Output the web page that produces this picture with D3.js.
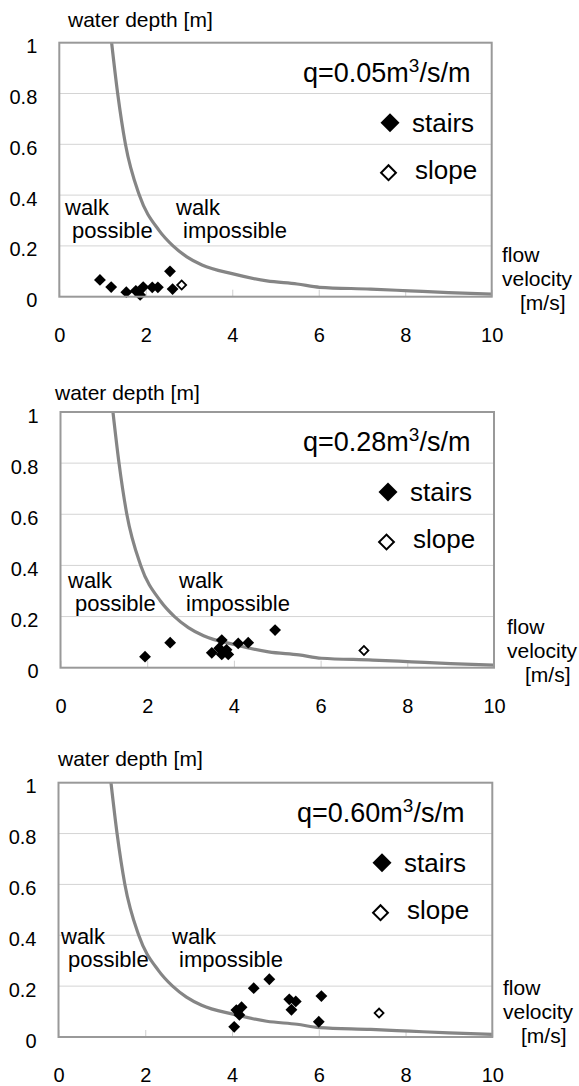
<!DOCTYPE html>
<html>
<head>
<meta charset="utf-8">
<script src="https://cdn.jsdelivr.net/npm/d3@7"></script>
<style>
  body { margin: 0; background: #fff; }
  svg { display: block; font-family: 'Liberation Sans', Arial, sans-serif; }
</style>
</head>
<body>
<div id="chart"></div>
<script>
// x = flow velocity [m/s], y = water depth [m]
const xTicks = [0, 2, 4, 6, 8, 10]
const xTickLabels = ['0', '2', '4', '6', '8', '10']
const yTicks = [0, 0.2, 0.4, 0.6, 0.8, 1]
const yTickLabels = ['0', '0.2', '0.4', '0.6', '0.8', '1']
const qLabels = ['0.05', '0.28', '0.60']

// walk possible / impossible boundary (same in every panel)
const limitCurve = [
  [1.21, 1.0], [1.35, 0.8], [1.53, 0.6], [1.85, 0.4], [2.31, 0.26],
  [2.63, 0.2], [2.95, 0.157], [3.3, 0.125], [4.02, 0.09], [4.8, 0.062],
  [5.5, 0.05], [6.02, 0.037], [7.2, 0.03], [8.1, 0.023], [9.0, 0.016],
  [10, 0.01]
]

// q = 0.05
const stairs005 = [
  [0.94, 0.066], [1.2, 0.038], [1.55, 0.018], [1.77, 0.023], [1.87, 0.007],
  [1.94, 0.038], [2.15, 0.037], [2.28, 0.037], [2.56, 0.1], [2.62, 0.03]
]
const slope005 = [[2.83, 0.046]]

// q = 0.28
const stairs028 = [
  [1.95, 0.043], [2.53, 0.098], [3.49, 0.058], [3.72, 0.108], [3.66, 0.076],
  [3.83, 0.07], [3.72, 0.052], [3.87, 0.052], [4.1, 0.095], [4.33, 0.098],
  [4.95, 0.147]
]
const slope028 = [[7.0, 0.067]]

// q = 0.60
const stairs060 = [
  [4.05, 0.04], [4.1, 0.106], [4.17, 0.087], [4.22, 0.117], [4.5, 0.192],
  [4.86, 0.227], [5.32, 0.148], [5.47, 0.14], [5.37, 0.107], [6.06, 0.161],
  [6.0, 0.06]
]
const slope060 = [[7.39, 0.094]]

const panels = [
  { q: qLabels[0], stairs: stairs005, slope: slope005,
    left: 59.3, right: 491.7, top: 42.7, bottom: 296.7,
    titleX: 68, titleY: 27, qX: 303, legendX: 390,
    walkX: 65, walkY: 215, flowX: 502, flowY: 262 },
  { q: qLabels[1], stairs: stairs028, slope: slope028,
    left: 60.5, right: 494, top: 412, bottom: 667.7,
    titleX: 55, titleY: 400, qX: 303, legendX: 388,
    walkX: 68, walkY: 588, flowX: 507, flowY: 634 },
  { q: qLabels[2], stairs: stairs060, slope: slope060,
    left: 58.5, right: 492.3, top: 782.7, bottom: 1037,
    titleX: 58, titleY: 766, qX: 297, legendX: 382,
    walkX: 61, walkY: 944, flowX: 503, flowY: 995 }
]

const W = 579, H = 1086
const svg = d3.select('#chart').append('svg')
  .attr('width', W).attr('height', H)

const diamond = size => d3.symbol().type(d3.symbolSquare).size(size)

function drawPanel(p) {
  const x = d3.scaleLinear().domain([0, 10]).range([p.left, p.right])
  const y = d3.scaleLinear().domain([0, 1]).range([p.bottom, p.top])
  const g = svg.append('g')

  // grid
  g.selectAll('.grid')
    .data(yTicks.slice(1, -1))
    .join('line')
    .attr('x1', p.left).attr('x2', p.right)
    .attr('y1', d => y(d)).attr('y2', d => y(d))
    .attr('stroke', '#d4d4d4').attr('stroke-width', 1)

  // x axis (ticks point inward)
  const xAxis = g.append('g')
    .attr('transform', `translate(0,${p.bottom})`)
    .call(d3.axisBottom(x).tickValues(xTicks)
      .tickFormat((d, i) => xTickLabels[i])
      .tickSize(-7).tickPadding(31))
  xAxis.select('.domain').remove()
  xAxis.selectAll('line').attr('stroke', '#cfcfcf')
  xAxis.selectAll('text')
    .attr('fill', '#000').style('font-size', '20px')
    .style('font-family', 'Liberation Sans, Arial, sans-serif')

  const yAxis = g.append('g')
    .attr('transform', `translate(${p.left},0)`)
    .call(d3.axisLeft(y).tickValues(yTicks)
      .tickFormat((d, i) => yTickLabels[i])
      .tickSize(0).tickPadding(22))
  yAxis.select('.domain').remove()
  yAxis.selectAll('text')
    .attr('fill', '#000').attr('dy', '0.5em').style('font-size', '20px')
    .style('font-family', 'Liberation Sans, Arial, sans-serif')

  // boundary curve
  g.append('path')
    .datum(limitCurve)
    .attr('d', d3.line().x(d => x(d[0])).y(d => y(d[1])).curve(d3.curveMonotoneX))
    .attr('fill', 'none')
    .attr('stroke', '#858585')
    .attr('stroke-width', 3.2)

  // points
  g.selectAll('.stairs')
    .data(p.stairs)
    .join('path')
    .attr('d', diamond(70)())
    .attr('transform', d => `translate(${x(d[0])},${y(d[1])}) rotate(45)`)
    .attr('fill', '#000')

  g.selectAll('.slope')
    .data(p.slope)
    .join('path')
    .attr('d', diamond(40)())
    .attr('transform', d => `translate(${x(d[0])},${y(d[1])}) rotate(45)`)
    .attr('fill', '#fff').attr('stroke', '#000').attr('stroke-width', 1.8)

  // frame
  g.append('rect')
    .attr('x', p.left).attr('y', p.top)
    .attr('width', p.right - p.left).attr('height', p.bottom - p.top)
    .attr('fill', 'none').attr('stroke', '#999').attr('stroke-width', 2)

  const txt = (tx, ty, s, size) => g.append('text')
    .attr('x', tx).attr('y', ty).attr('font-size', size).attr('fill', '#000').text(s)

  txt(p.titleX, p.titleY, 'water depth [m]', 21)

  const q = g.append('text').attr('x', p.qX).attr('y', p.top + 39)
    .attr('font-size', 27).attr('fill', '#000')
  q.append('tspan').text(`q=${p.q}m`)
  q.append('tspan').attr('dy', -10).attr('font-size', 19).text('3')
  q.append('tspan').attr('dy', 10).text('/s/m')

  // legend
  g.append('path')
    .attr('d', diamond(180)())
    .attr('transform', `translate(${p.legendX},${p.top + 80}) rotate(45)`)
    .attr('fill', '#000')
  txt(p.legendX + 22, p.top + 89, 'stairs', 26)
  g.append('path')
    .attr('d', diamond(110)())
    .attr('transform', `translate(${p.legendX - 1.5},${p.top + 130}) rotate(45)`)
    .attr('fill', '#fff').attr('stroke', '#000').attr('stroke-width', 2)
  txt(p.legendX + 25, p.top + 136, 'slope', 26)

  txt(p.walkX, p.walkY, 'walk', 22)
  txt(p.walkX + 7, p.walkY + 22.5, 'possible', 22)
  txt(p.walkX + 111, p.walkY, 'walk', 22)
  txt(p.walkX + 118, p.walkY + 22.5, 'impossible', 22)

  // x axis title, three lines
  txt(p.flowX, p.flowY, 'flow', 21)
  txt(p.flowX, p.flowY + 24, 'velocity', 21)
  txt(p.flowX + 18, p.flowY + 48, '[m/s]', 21)
}

panels.forEach(drawPanel)
</script>
</body>
</html>
